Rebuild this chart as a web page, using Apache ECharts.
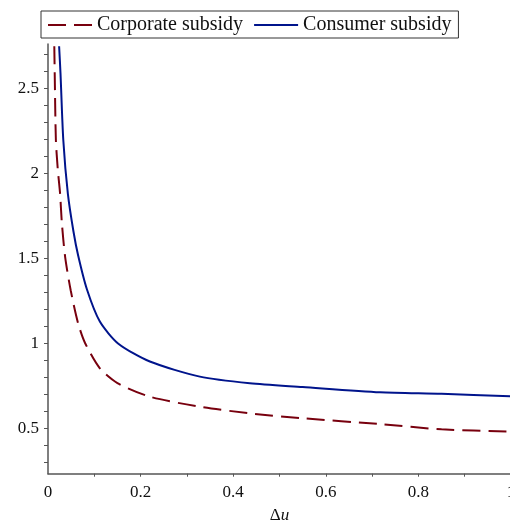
<!DOCTYPE html>
<html>
<head>
<meta charset="utf-8">
<script src="https://cdn.jsdelivr.net/npm/echarts@6/dist/echarts.min.js"></script>
<style>
    html, body { margin: 0; padding: 0; background: #fff; }
    #container { width: 510px; height: 523px; }
</style>
</head>
<body>
<div id="container"></div>
<script>
// 读图得到的数据点 (Δu, 值)
var corporateX = [0.0136, 0.0145, 0.017, 0.021, 0.026, 0.030, 0.037, 0.049, 0.065, 0.08, 0.112, 0.15, 0.22, 0.328, 0.436, 0.55, 0.717, 0.85, 1.0];
var corporateY = [2.75, 2.59, 2.2, 2.03, 1.886, 1.708, 1.511, 1.314, 1.12, 1.004, 0.855, 0.768, 0.688, 0.629, 0.590, 0.561, 0.527, 0.496, 0.482];
var consumerX = [0.024, 0.027, 0.033, 0.043, 0.055, 0.065, 0.084, 0.112, 0.152, 0.22, 0.328, 0.436, 0.55, 0.717, 0.85, 1.0];
var consumerY = [2.75, 2.59, 2.2, 1.88, 1.66, 1.52, 1.32, 1.13, 1.0, 0.895, 0.806, 0.767, 0.745, 0.714, 0.705, 0.69];
var seriesNames = ['Corporate subsidy', 'Consumer subsidy'];
var xLabels = [0, 0.2, 0.4, 0.6, 0.8, 1];
var yLabels = [0.5, 1, 1.5, 2, 2.5];

function toPairs(xs, ys) {
    var arr = [];
    for (var i = 0; i < xs.length; i++) {
        arr.push([xs[i], ys[i]]);
    }
    return arr;
}

var xTicks = [];
for (var i = 1; i < 10; i++) { xTicks.push(i / 10); }
var yTicks = [];
for (var j = 3; j <= 27; j++) { yTicks.push(j / 10); }

var font = 'Liberation Serif, Times New Roman, serif';
var axisColor = '#555';

var myChart = echarts.init(document.getElementById('container'));
var option = {
    animation: false,
    backgroundColor: '#fff',
    legend: {
        left: 41,
        top: 11,
        padding: [4, 7, 3, 6],
        itemWidth: 44,
        itemHeight: 14,
        itemGap: 10,
        borderColor: '#333',
        borderWidth: 1,
        itemStyle: { color: 'rgba(0,0,0,0)', borderColor: 'rgba(0,0,0,0)', borderWidth: 0 },
        textStyle: { fontFamily: font, fontSize: 20, color: '#111' },
        data: seriesNames
    },
    grid: {
        left: 48,
        width: 463,
        top: 44,
        bottom: 49.3,
        outerBoundsMode: 'none',
        containLabel: false
    },
    xAxis: {
        type: 'value',
        min: 0,
        max: 1,
        name: '{d|Δ}{u|u}',
        nameLocation: 'middle',
        nameGap: 33,
        nameTextStyle: {
            rich: {
                d: { fontFamily: font, fontSize: 17, color: '#111' },
                u: { fontFamily: font, fontSize: 17, fontStyle: 'italic', color: '#111' }
            }
        },
        axisLine: { lineStyle: { color: axisColor, width: 1.5 } },
        axisTick: { show: true, length: 3, customValues: xTicks, lineStyle: { color: axisColor } },
        axisLabel: { customValues: xLabels, margin: 10, fontFamily: font, fontSize: 17, color: '#111' },
        splitLine: { show: false }
    },
    yAxis: {
        type: 'value',
        min: 0.235,
        max: 2.763,
        axisLine: { show: true, lineStyle: { color: axisColor, width: 1.5 } },
        axisTick: { show: true, length: 4, customValues: yTicks, lineStyle: { color: axisColor } },
        axisLabel: { customValues: yLabels, margin: 9, fontFamily: font, fontSize: 17, color: '#111' },
        splitLine: { show: false }
    },
    series: [
        {
            name: seriesNames[0],
            type: 'line',
            symbol: 'none',
            smooth: 0.25,
            data: toPairs(corporateX, corporateY),
            itemStyle: { color: '#78000E' },
            lineStyle: { color: '#78000E', width: 2, type: [18, 8] }
        },
        {
            name: seriesNames[1],
            type: 'line',
            symbol: 'none',
            smooth: 0.25,
            data: toPairs(consumerX, consumerY),
            itemStyle: { color: '#00148C' },
            lineStyle: { color: '#00148C', width: 2 }
        }
    ]
};
myChart.setOption(option);
</script>
</body>
</html>
